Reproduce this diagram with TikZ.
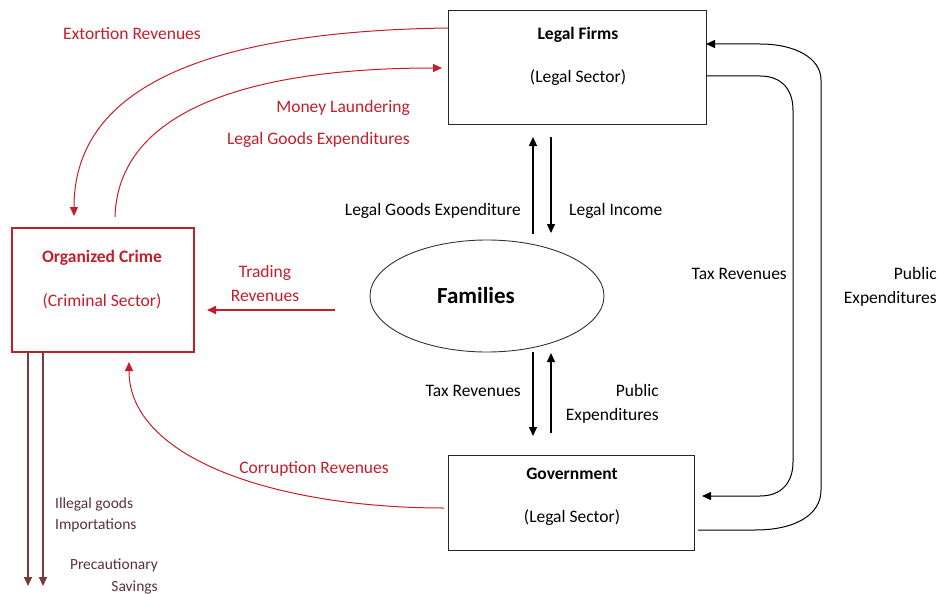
\documentclass[tikz,border=0pt]{standalone}
\usepackage{fontspec}
\setmainfont{Carlito}
\usetikzlibrary{arrows.meta,shapes.geometric}
\definecolor{crimered}{HTML}{C41E2A}
\definecolor{brownline}{HTML}{7A3A3A}
\definecolor{browntext}{HTML}{5A3040}
\begin{document}
\begin{tikzpicture}[x=1pt,y=-1pt,
  lbl/.style={font=\fontsize{17.5}{20}\selectfont, inner sep=0pt},
  redlbl/.style={lbl, text=crimered},
  brlbl/.style={font=\fontsize{15.5}{18}\selectfont, inner sep=0pt, text=browntext},
  box/.style={draw=black!85, line width=1.3pt},
  redbox/.style={draw=crimered, line width=1.5pt},
  flow/.style={-{Triangle[length=9pt,width=8pt]}, line width=1pt},
  redflow/.style={flow, draw=crimered},
  brflow/.style={flow, draw=brownline, line width=1.8pt}
]
\useasboundingbox (0,0) rectangle (940,594);

% Boxes
\node[box, minimum width=258pt, minimum height=114pt, anchor=north west] (firms) at (448,10) {};
\node[lbl, font=\fontsize{17.5}{20}\selectfont\bfseries] (firmsT) at (578,35) {Legal Firms};
\node[lbl] (firmsS) at (578,78) {(Legal Sector)};

\node[redbox, minimum width=182pt, minimum height=124pt, anchor=north west] (crime) at (11,227) {};
\node[redlbl, font=\fontsize{17.5}{20}\selectfont\bfseries] (crimeT) at (102,258) {Organized Crime};
\node[redlbl] (crimeS) at (102,301) {(Criminal Sector)};

\node[box, minimum width=246pt, minimum height=95pt, anchor=north west] (gov) at (448,455) {};
\node[lbl, font=\fontsize{17.5}{20}\selectfont\bfseries] (govT) at (572,474) {Government};
\node[lbl] (govS) at (572,518) {(Legal Sector)};

\node[draw=black!80, line width=0.9pt, ellipse, minimum width=234pt, minimum height=112pt] (fam) at (487,296) {};
\node[lbl, font=\fontsize{23}{26}\selectfont\bfseries] (famT) at (476,296) {Families};

% Families <-> Legal Firms
\coordinate (a1s) at (533,234); \coordinate (a1e) at (533,137);
\coordinate (a2s) at (551,137); \coordinate (a2e) at (551,233);
\draw[flow, line width=1.3pt] (a1s) -- (a1e);
\draw[flow, line width=1.3pt] (a2s) -- (a2e);
\node[lbl, anchor=east] (lge) at (521,211) {Legal Goods Expenditure};
\node[lbl, anchor=west] (li) at (569,211) {Legal Income};

% Families <-> Government
\coordinate (b1s) at (533,352); \coordinate (b1e) at (533,436);
\coordinate (b2s) at (551,433); \coordinate (b2e) at (551,353);
\draw[flow, line width=1.3pt] (b1s) -- (b1e);
\draw[flow, line width=1.3pt] (b2s) -- (b2e);
\node[lbl, anchor=east] (tr1) at (521,391) {Tax Revenues};
\node[lbl, anchor=east, align=right] (pe1) at (659,404) {Public\\[4pt]Expenditures};

% Right loops
\coordinate (c1s) at (706,76); \coordinate (c1e) at (702,496);
\draw[flow] (c1s) -- (760,76) .. controls (782,76) and (793,90) .. (793,110)
  -- (793,462) .. controls (793,482) and (782,496) .. (760,496) -- (c1e);
\node[lbl, anchor=east] (tr2) at (787,274) {Tax Revenues};

\coordinate (c2s) at (698,530); \coordinate (c2e) at (706,44);
\draw[flow] (c2s) -- (755,530) .. controls (795,530) and (821,515) .. (821,490)
  -- (821,80) .. controls (821,58) and (795,44) .. (760,44) -- (c2e);
\node[lbl, anchor=east, align=right] (pe2) at (937,287) {Public\\[4pt]Expenditures};

% Trading revenues
\coordinate (d1s) at (335,310); \coordinate (d1e) at (207,310);
\draw[redflow, line width=1.8pt] (d1s) -- (d1e);
\node[redlbl, align=center] (trd) at (265,283) {Trading\\[4pt]Revenues};

% Extortion revenues
\coordinate (e1s) at (448,28); \coordinate (e1e) at (74,216);
\draw[redflow] (e1s) .. controls (160,32) and (74,110) .. (e1e);
\node[redlbl] (ext) at (132,34) {Extortion Revenues};

% Money laundering
\coordinate (f1s) at (115,217); \coordinate (f1e) at (442,68);
\draw[redflow] (f1s) .. controls (118,110) and (250,68) .. (f1e);
\node[redlbl, anchor=east] (ml) at (410,108) {Money Laundering};
\node[redlbl, anchor=east] (lgx) at (410,140) {Legal Goods Expenditures};

% Corruption revenues
\coordinate (g1s) at (444,508); \coordinate (g1e) at (129,362);
\draw[redflow] (g1s) .. controls (280,508) and (129,460) .. (g1e);
\node[redlbl] (cor) at (314,469) {Corruption Revenues};

% Outflows
\coordinate (h1s) at (28,351); \coordinate (h1e) at (28,586);
\coordinate (h2s) at (43,351); \coordinate (h2e) at (43,586);
\draw[brflow] (h1s) -- (h1e);
\draw[brflow] (h2s) -- (h2e);
\node[brlbl, anchor=west, align=left] (ill) at (55,515) {Illegal goods\\[3pt]Importations};
\node[brlbl, anchor=east, align=right] (pre) at (158,576) {Precautionary\\[4pt]Savings};
\end{tikzpicture}
\end{document}
